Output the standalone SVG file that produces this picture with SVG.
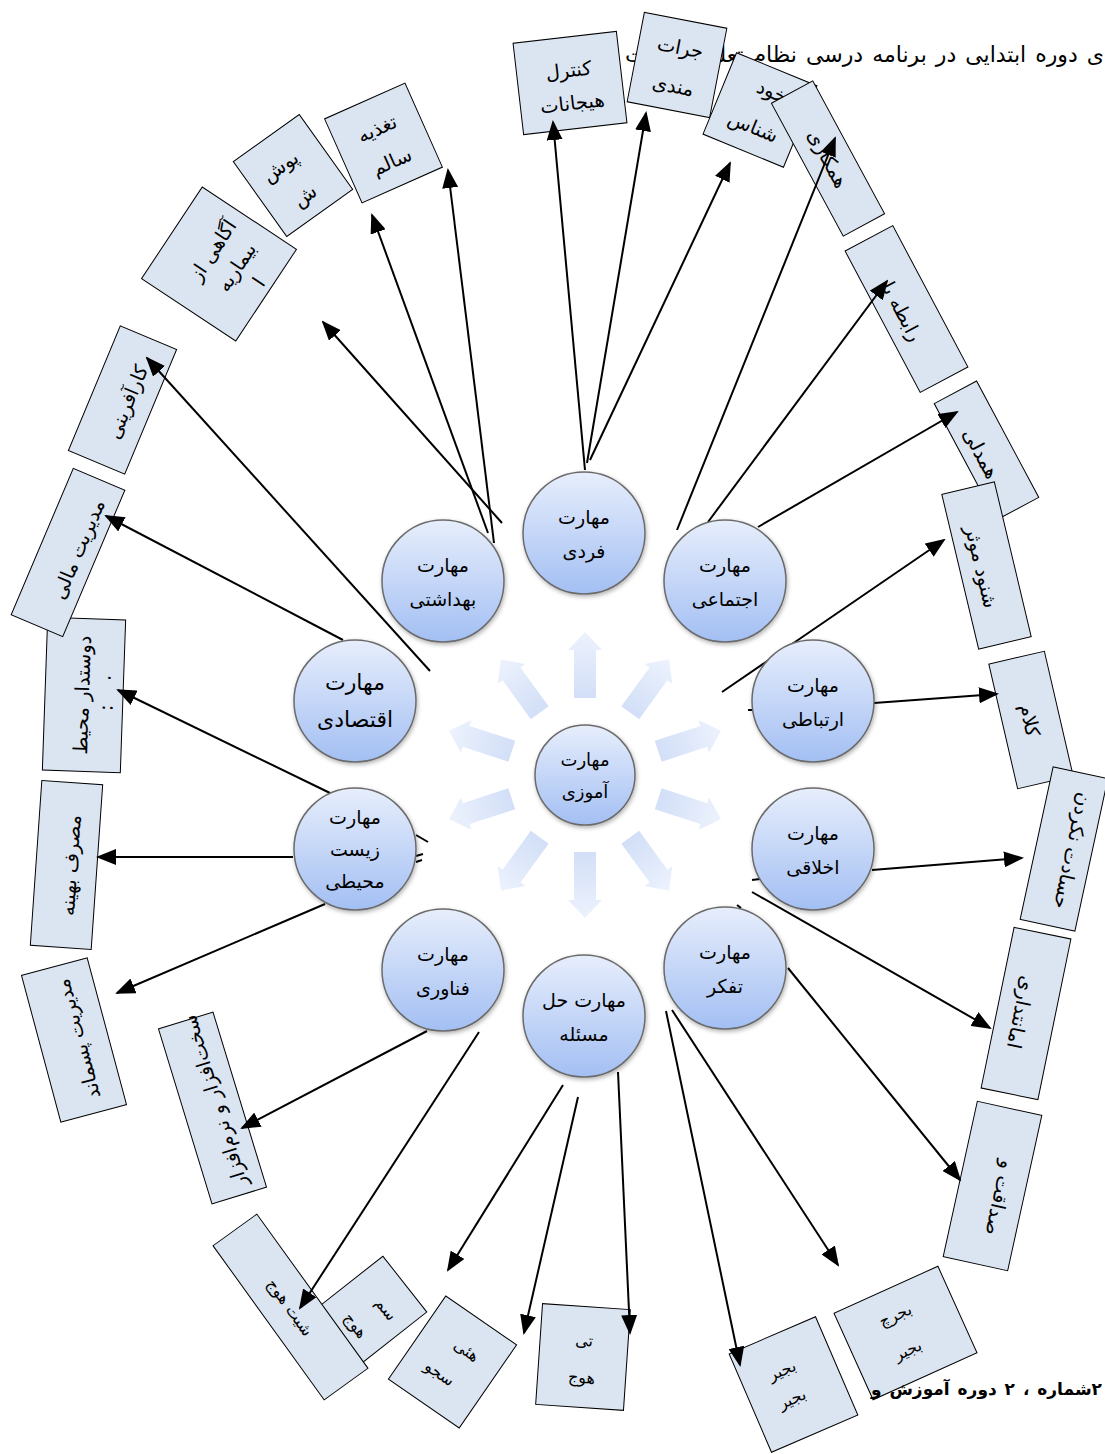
<svg xmlns="http://www.w3.org/2000/svg" width="1105" height="1454" viewBox="0 0 1105 1454">
<defs>
<style>
.box{fill:#dbe5f1;stroke:#000;stroke-width:1}
.bt{font-family:'DejaVu Sans',sans-serif;font-size:19.5px;text-anchor:middle;fill:#000}
.gt{font-family:'DejaVu Sans',sans-serif;font-size:16px;text-anchor:middle;fill:#000}
.ct{font-family:'DejaVu Sans',sans-serif;font-size:19px;text-anchor:middle;fill:#000}
.circ{fill:url(#cg);stroke:#6b6b6b;stroke-width:1.5;filter:url(#sh)}
.con{stroke:#000;stroke-width:2;fill:none;marker-end:url(#ah)}
.stub{stroke:#000;stroke-width:2;fill:none}
.fa{fill:url(#fg)}
.hd{font-family:'DejaVu Sans',sans-serif;font-size:22px;word-spacing:2px;fill:#000}
.ft{font-family:'DejaVu Sans',sans-serif;font-size:17px;font-weight:bold;fill:#000;word-spacing:2px}
</style>
<linearGradient id="cg" x1="0" y1="0" x2="0" y2="1">
<stop offset="0" stop-color="#e7eefc"/>
<stop offset="1" stop-color="#a3bff3"/>
</linearGradient>
<linearGradient id="fg" x1="0" y1="0" x2="1" y2="0">
<stop offset="0" stop-color="#d2dff7"/>
<stop offset="1" stop-color="#edf2fd"/>
</linearGradient>
<filter id="sh" x="-20%" y="-20%" width="140%" height="140%">
<feDropShadow dx="1" dy="2" stdDeviation="2" flood-color="#000" flood-opacity="0.3"/>
</filter>
<marker id="ah" markerUnits="userSpaceOnUse" markerWidth="20" markerHeight="16" refX="18" refY="8" orient="auto">
<path d="M0,0 L20,8 L0,16 z" fill="#000"/>
</marker>
</defs>
<rect width="1105" height="1454" fill="#fff"/>

<g id="header">
<text class="hd" x="1104" y="62" text-anchor="end">ی دوره ابتدایی در برنامه درسی نظام تعلیم و</text>
<text class="hd" x="625" y="62" text-anchor="start">تربیت</text>
</g>

<g id="boxes">
<g id="b-kontrol" transform="translate(570,83) rotate(-6.6)"><rect class="box" x="-52" y="-46" width="104" height="92"/><text class="bt" y="-6">کنترل</text><text class="bt" y="27">هیجانات</text></g>
<g id="b-jorat" transform="translate(677,65) rotate(10.9)"><rect class="box" x="-42" y="-45.5" width="84" height="91"/><text class="bt" y="-11">جرات</text><text class="bt" y="28">مندی</text></g>
<g id="b-khod" transform="translate(760,110) rotate(22.4)"><rect class="box" x="-43.5" y="-44" width="87" height="88"/><text class="bt" x="4" y="-15">خود</text><text class="bt" y="25">شناس</text></g>
<g id="b-hamkari" transform="translate(828,158.5) rotate(61.6)"><rect class="box" x="-75.5" y="-23.5" width="151" height="47"/><text class="bt" y="7">همکاری</text></g>
<g id="b-rabete" transform="translate(906.5,309) rotate(62)"><rect class="box" x="-80" y="-27" width="160" height="54"/><text class="bt" y="12">رابطه با</text></g>
<g id="b-hamdeli" transform="translate(986.5,450.5) rotate(61.9)"><rect class="box" x="-66" y="-24" width="132" height="48"/><text class="bt" y="13">همدلی</text></g>
<g id="b-shonud" transform="translate(986.5,565.5) rotate(76.6)"><rect class="box" x="-79.5" y="-27" width="159" height="54"/><text class="bt" y="12">شنود موثر</text></g>
<g id="b-kalam" transform="translate(1031,720) rotate(77)"><rect class="box" x="-64" y="-28.5" width="128" height="57"/><text class="bt" y="8">کلام</text></g>
<g id="b-hesadat" transform="translate(1064,849) rotate(102.2)"><rect class="box" x="-78" y="-28" width="156" height="56"/><text class="bt" y="-2">حسادت نکردن</text></g>
<g id="b-amanat" transform="translate(1026,1013.5) rotate(101.6)"><rect class="box" x="-82" y="-29" width="164" height="58"/><text class="bt" y="12">امانتداری</text></g>
<g id="b-sedaghat" transform="translate(992.5,1186) rotate(102.4)"><rect class="box" x="-79.5" y="-33" width="159" height="66"/><text class="bt" x="10" y="-3">صداقت و</text></g>
<g id="b-karafarini" transform="translate(122.5,400) rotate(-67.4)"><rect class="box" x="-67.5" y="-30.5" width="135" height="61"/><text class="bt" y="12">کارآفرینی</text></g>
<g id="b-dustdar" transform="translate(84,695) rotate(-88)"><rect class="box" x="-76.5" y="-39" width="153" height="78"/><text class="bt" y="5">دوستدار محیط</text><text class="bt" x="18" y="26">.</text><text class="bt" x="-12" y="29">:</text></g>
<g id="b-mali" transform="translate(68,552.5) rotate(-67)"><rect class="box" x="-79.5" y="-28" width="159" height="56"/><text class="bt" x="7" y="15">مدیریت مالی</text></g>
<g id="b-masraf" transform="translate(66.5,865) rotate(-86)"><rect class="box" x="-82.5" y="-30.5" width="165" height="61"/><text class="bt" y="11">مصرف بهینه</text></g>
<g id="b-pasmand" transform="translate(74,1040) rotate(-105)"><rect class="box" x="-76" y="-34" width="152" height="68"/><text class="bt" y="11">مدیریت پسماند</text></g>
<g id="b-sakht" transform="translate(212.5,1108) rotate(-107)"><rect class="box" x="-91.5" y="-28.5" width="183" height="57"/><text class="bt" x="6" y="11">سخت‌افزار و نرم‌افزار</text></g>
<g id="b-taghzie" transform="translate(383.5,143) rotate(-24)"><rect class="box" x="-44" y="-46" width="88" height="92"/><text class="bt" y="-9">تغذیه</text><text class="bt" y="27">سالم</text></g>
<g id="b-pushesh" transform="translate(293,175.5) rotate(-35.5)"><rect class="box" x="-40.5" y="-46" width="81" height="92"/><text class="bt" x="-5" y="-8">پوش</text><text class="bt" x="-2" y="30">ش</text></g>
<g id="b-agahi" transform="translate(219,264) rotate(-56.5)"><rect class="box" x="-55" y="-56.5" width="110" height="113"/><text class="bt" x="8" y="-6">آگاهی از</text><text class="bt" x="7" y="23">بیماریه</text><text class="bt" x="7" y="50">ا</text></g>
<g id="b-f" transform="translate(905.5,1333) rotate(-24.3)"><rect class="box" x="-57" y="-47.5" width="114" height="95"/><text class="gt" x="-2" y="-15">بجرچ</text><text class="gt" x="-5" y="22">بجیر</text></g>
<g id="b-e" transform="translate(793.5,1384.5) rotate(-23.3)"><rect class="box" x="-47" y="-53.5" width="94" height="107"/><text class="gt" x="-5" y="-12">بجیر</text><text class="gt" x="-7" y="18">بجیر</text></g>
<g id="b-d" transform="translate(583,1357) rotate(3.9)"><rect class="box" x="-44" y="-50.5" width="88" height="101"/><text class="gt" y="-11">تی</text><text class="gt" y="26">هوج</text></g>
<g id="b-c" transform="translate(452.5,1362) rotate(34.6)"><rect class="box" x="-43" y="-50.5" width="86" height="101"/><text class="gt" x="5" y="-12">هئی</text><text class="gt" x="-4" y="22">سجو</text></g>
<g id="b-b" transform="translate(367.5,1313.5) rotate(51.8)"><rect class="box" x="-35.5" y="-47.5" width="71" height="95"/><text class="gt" x="8" y="-12">سم</text><text class="gt" x="2" y="22">هوج</text></g>
<g id="b-a" transform="translate(290.5,1307) rotate(54.2)"><rect class="box" x="-95" y="-27" width="190" height="54"/><text class="gt" y="6">شیت هوج</text></g>
</g>

<g id="connectors">
<line class="con" x1="585" y1="470" x2="553" y2="122"/>
<line class="con" x1="587" y1="463" x2="646" y2="113"/>
<line class="con" x1="590" y1="460" x2="730" y2="163"/>
<line class="con" x1="677" y1="530" x2="835" y2="138"/>
<line class="con" x1="708" y1="522" x2="887" y2="281"/>
<line class="con" x1="758" y1="527" x2="957" y2="412"/>
<line class="con" x1="722" y1="692" x2="944" y2="540"/>
<line class="con" x1="874" y1="703" x2="997" y2="694"/>
<line class="con" x1="872" y1="870" x2="1022" y2="858"/>
<line class="con" x1="752" y1="892" x2="990" y2="1028"/>
<line class="con" x1="788" y1="968" x2="960" y2="1180"/>
<line class="con" x1="672" y1="1010" x2="838" y2="1265"/>
<line class="con" x1="666" y1="1011" x2="740" y2="1365"/>
<line class="con" x1="618" y1="1072" x2="630" y2="1333"/>
<line class="con" x1="578" y1="1097" x2="524" y2="1333"/>
<line class="con" x1="563" y1="1085" x2="448" y2="1270"/>
<line class="con" x1="479" y1="1032" x2="300" y2="1308"/>
<line class="con" x1="427" y1="1031" x2="242" y2="1128"/>
<line class="con" x1="325" y1="904" x2="117" y2="993"/>
<line class="con" x1="293" y1="857" x2="98" y2="857"/>
<line class="con" x1="330" y1="793" x2="118" y2="690"/>
<line class="con" x1="343" y1="640" x2="106" y2="516"/>
<line class="con" x1="430" y1="671" x2="147" y2="358"/>
<line class="con" x1="502" y1="523" x2="323" y2="322"/>
<line class="con" x1="488" y1="533" x2="372" y2="215"/>
<line class="con" x1="494" y1="543" x2="448" y2="170"/>
<line class="stub" x1="748" y1="710" x2="754" y2="710"/>
<line class="stub" x1="752" y1="880" x2="760" y2="879"/>
<line class="stub" x1="737" y1="905" x2="741" y2="908"/>
<line class="stub" x1="416" y1="835" x2="428" y2="842"/>
<line class="stub" x1="416" y1="856" x2="423" y2="854"/>
<line class="stub" x1="416" y1="862" x2="422" y2="860"/>
</g>

<g id="flow-arrows">
<polygon class="fa" points="77,-11 125,-11 125,-17 143,0 125,17 125,11 77,11" transform="translate(585,775) rotate(-90)"/>
<polygon class="fa" points="77,-11 125,-11 125,-17 143,0 125,17 125,11 77,11" transform="translate(585,775) rotate(-54)"/>
<polygon class="fa" points="77,-11 125,-11 125,-17 143,0 125,17 125,11 77,11" transform="translate(585,775) rotate(-18)"/>
<polygon class="fa" points="77,-11 125,-11 125,-17 143,0 125,17 125,11 77,11" transform="translate(585,775) rotate(18)"/>
<polygon class="fa" points="77,-11 125,-11 125,-17 143,0 125,17 125,11 77,11" transform="translate(585,775) rotate(54)"/>
<polygon class="fa" points="77,-11 125,-11 125,-17 143,0 125,17 125,11 77,11" transform="translate(585,775) rotate(90)"/>
<polygon class="fa" points="77,-11 125,-11 125,-17 143,0 125,17 125,11 77,11" transform="translate(585,775) rotate(126)"/>
<polygon class="fa" points="77,-11 125,-11 125,-17 143,0 125,17 125,11 77,11" transform="translate(585,775) rotate(162)"/>
<polygon class="fa" points="77,-11 125,-11 125,-17 143,0 125,17 125,11 77,11" transform="translate(585,775) rotate(198)"/>
<polygon class="fa" points="77,-11 125,-11 125,-17 143,0 125,17 125,11 77,11" transform="translate(585,775) rotate(234)"/>
</g>

<g id="n-center"><circle class="circ" cx="585" cy="775" r="50"/><text class="ct" style="font-size:18px" x="585" y="766">مهارت</text><text class="ct" style="font-size:18px" x="585" y="798">آموزی</text></g>
<g id="n-fardi"><circle class="circ" cx="584" cy="533" r="61"/><text class="ct" x="584" y="524">مهارت</text><text class="ct" x="584" y="558">فردی</text></g>
<g id="n-behdashti"><circle class="circ" cx="443" cy="581" r="61"/><text class="ct" x="443" y="572">مهارت</text><text class="ct" x="443" y="606">بهداشتی</text></g>
<g id="n-ejtemai"><circle class="circ" cx="725" cy="581" r="61"/><text class="ct" x="725" y="572">مهارت</text><text class="ct" x="725" y="606">اجتماعی</text></g>
<g id="n-eghtesadi"><circle class="circ" cx="355" cy="701" r="61"/><text class="ct" style="font-size:22px" x="355" y="690">مهارت</text><text class="ct" style="font-size:22px" x="355" y="727">اقتصادی</text></g>
<g id="n-ertebati"><circle class="circ" cx="813" cy="701" r="61"/><text class="ct" x="813" y="692">مهارت</text><text class="ct" x="813" y="726">ارتباطی</text></g>
<g id="n-zist"><circle class="circ" cx="355" cy="849" r="61"/><text class="ct" x="355" y="824">مهارت</text><text class="ct" x="355" y="856">زیست</text><text class="ct" x="355" y="888">محیطی</text></g>
<g id="n-akhlaghi"><circle class="circ" cx="813" cy="849" r="61"/><text class="ct" x="813" y="840">مهارت</text><text class="ct" x="813" y="874">اخلاقی</text></g>
<g id="n-fanavari"><circle class="circ" cx="443" cy="970" r="61"/><text class="ct" x="443" y="961">مهارت</text><text class="ct" x="443" y="995">فناوری</text></g>
<g id="n-tafakor"><circle class="circ" cx="725" cy="968" r="61"/><text class="ct" x="725" y="959">مهارت</text><text class="ct" x="725" y="993">تفکر</text></g>
<g id="n-halmasale"><circle class="circ" cx="584" cy="1016" r="61"/><text class="ct" x="584" y="1007">مهارت حل</text><text class="ct" x="584" y="1041">مسئله</text></g>

<g id="footer">
<text class="ft" x="1102" y="1395" text-anchor="end">دوره آموزش و&#x200E; ۲&#x200E; ، &#x200E;شماره&#x200E;۲</text>
</g>
</svg>
